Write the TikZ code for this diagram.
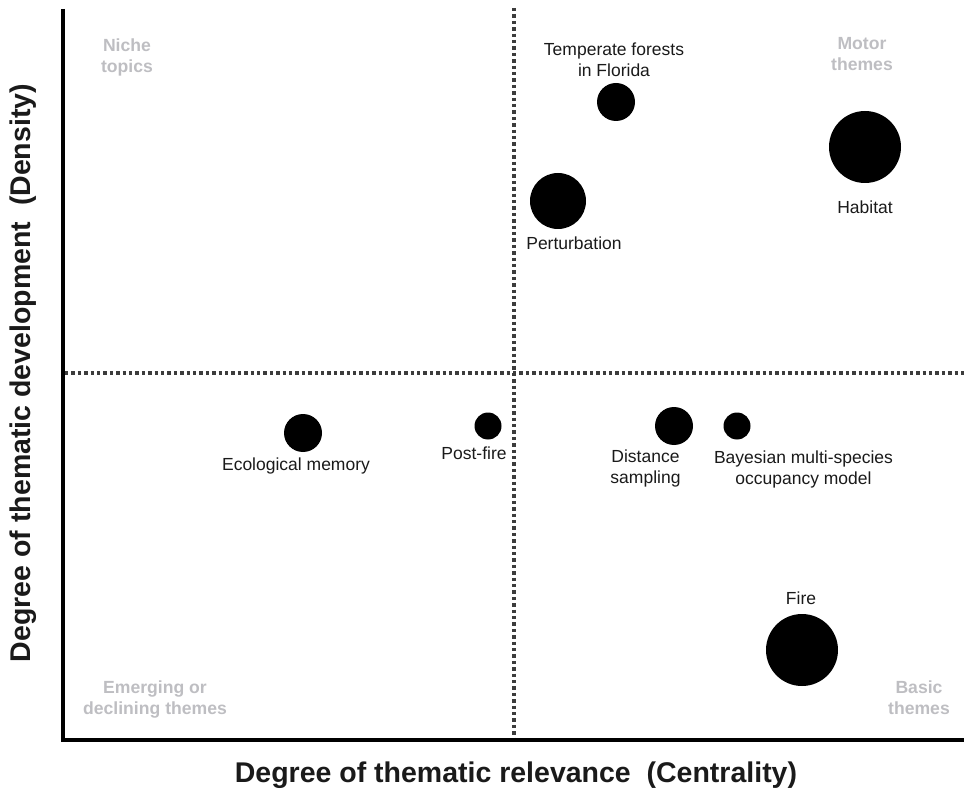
\documentclass[tikz,border=0pt]{standalone}
\usepackage{fontspec}
\setmainfont{Liberation Sans}
\definecolor{quad}{HTML}{BEBEC2}
\definecolor{dotc}{HTML}{3C3C3C}
\definecolor{txt}{HTML}{1A1A1A}
\begin{document}
\begin{tikzpicture}[x=1pt,y=-1pt,
  axis/.style={line width=4pt,black},
  guide/.style={line width=3.5pt,dotc,dash pattern=on 3.4pt off 3pt},
  bubble/.style={circle,fill=black,inner sep=0pt,minimum size=#1},
  lbl/.style={font=\fontsize{17.5}{21}\selectfont,text=txt,align=center,inner sep=0pt},
  quadlbl/.style={font=\fontsize{17.6}{21}\bfseries\selectfont,text=quad,align=center,inner sep=0pt},
  title/.style={font=\fontsize{28.5}{30}\bfseries\selectfont,text=txt,inner sep=0pt}]
\useasboundingbox (0,0) rectangle (964,794);
% coordinates
\coordinate (ytop) at (63,9);
\coordinate (orig) at (63,740);
\coordinate (xend) at (964,740);
\coordinate (vtop) at (514,8);
\coordinate (vbot) at (514,738);
\coordinate (hl) at (65,373);
\coordinate (hr) at (964,373);
% guides
\draw[guide] (vtop) -- (vbot);
\draw[guide] (hl) -- (hr);
% axes
\draw[axis] (ytop) -- (orig) -- (xend);
% bubbles
\node[bubble=38pt] (temp) at (616,102) {};
\node[bubble=72pt] (hab) at (865,147) {};
\node[bubble=56pt] (pert) at (558,201) {};
\node[bubble=38pt] (eco) at (303,433) {};
\node[bubble=27pt] (post) at (488,426) {};
\node[bubble=38pt] (dist) at (674,426) {};
\node[bubble=27pt] (bay) at (737,426) {};
\node[bubble=72pt] (fire) at (802,650) {};
% labels
\node[lbl] (ltemp) at (614,60) {Temperate forests\\in Florida};
\node[lbl] (lhab) at (865,207) {Habitat};
\node[lbl] (lpert) at (574,243) {Perturbation};
\node[lbl] (leco) at (296,466) {Ecological memory};
\node[lbl] (lpost) at (474,453) {Post-fire};
\node[lbl] (ldist) at (645.5,468.5) {Distance\\sampling};
\node[lbl] (lbay) at (803.5,469.5) {Bayesian multi-species\\occupancy model};
\node[lbl] (lfire) at (801,598) {Fire};
% quadrant labels
\node[quadlbl] (qn) at (127,57) {Niche\\topics};
\node[quadlbl] (qm) at (862,54.5) {Motor\\themes};
\node[quadlbl] (qe) at (155,699) {Emerging or\\declining themes};
\node[quadlbl] (qb) at (919,698) {Basic\\themes};
% axis titles
\node[title] (xt) at (516,775) {Degree of thematic relevance \ (Centrality)};
\node[title,rotate=90] (yt) at (23,373) {Degree of thematic development \ (Density)};
\end{tikzpicture}
\end{document}
